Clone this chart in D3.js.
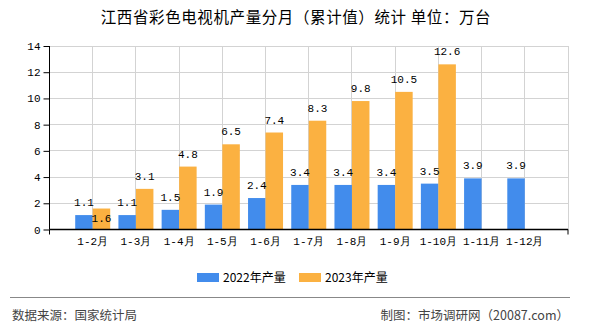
<!DOCTYPE html>
<html><head><meta charset="utf-8">
<script src="https://cdn.jsdelivr.net/npm/d3@7/dist/d3.min.js"></script>
<style>
html,body{margin:0;padding:0;background:#fff;}
svg{display:block;}
</style></head>
<body><svg id="c" width="590" height="330"></svg>
<script>
const categories = ["1-2月","1-3月","1-4月","1-5月","1-6月","1-7月","1-8月","1-9月","1-10月","1-11月","1-12月"];
const values2022 = [1.1,1.1,1.5,1.9,2.4,3.4,3.4,3.4,3.5,3.9,3.9];
const values2023 = [1.6,3.1,4.8,6.5,7.4,8.3,9.8,10.5,12.6,null,null];
const seriesNames = ["2022年产量","2023年产量"];
const yTicks = [0,2,4,6,8,10,12,14];
const title = "江西省彩色电视机产量分月（累计值）统计  单位：万台";
const sourceText = "数据来源：国家统计局";
const creditText = "制图：市场调研网（20087.com）";

const colors = ["#428cec","#fbb141"];
const monoFont = "'Liberation Mono','DejaVu Sans Mono',monospace";
const cjkFont = "'Noto Sans CJK SC','Noto Sans',sans-serif";

const svg = d3.select("#c");
const L = 49.5, R = 568, T = 46, B = 229.5;

const x = d3.scaleLinear().domain([0, categories.length + 1]).range([L, R]);
const cx = i => x(i + 1);
const y = d3.scaleLinear().domain([0, 14]).range([B, T]);
const bw = 17.5;

// gridlines
const g = svg.append("g");
g.selectAll(".hg").data(yTicks.filter(d => d > 0)).join("line")
  .attr("x1", L).attr("x2", R).attr("y1", d => y(d)).attr("y2", d => y(d))
  .attr("stroke", "#d3d3d3").attr("stroke-width", 1).attr("shape-rendering","crispEdges");
g.selectAll(".vg").data(categories.map((c,i)=>cx(i)).concat([R])).join("line")
  .attr("x1", d => d).attr("x2", d => d).attr("y1", T).attr("y2", B)
  .attr("stroke", "#d3d3d3").attr("stroke-width", 1).attr("shape-rendering","crispEdges");

// bars
const bars = svg.append("g");
bars.selectAll(".b1").data(values2022).join("rect")
  .attr("x", (d,i) => cx(i) - bw).attr("width", bw)
  .attr("y", d => y(d)).attr("height", d => B - y(d))
  .attr("fill", colors[0]);
bars.selectAll(".b2").data(values2023.map((v,i)=>({v,i})).filter(d => d.v != null)).join("rect")
  .attr("x", d => cx(d.i)).attr("width", bw)
  .attr("y", d => y(d.v)).attr("height", d => B - y(d.v))
  .attr("fill", colors[1]);

// axes
const yAxis = d3.axisLeft(y).tickValues(yTicks).tickSize(6).tickPadding(3);
const ya = svg.append("g").attr("transform", `translate(${L},0)`).call(yAxis);
ya.select(".domain").attr("stroke", "#000").attr("d", `M0,${T}V${B}`);
ya.selectAll(".tick line").attr("stroke","#000");
ya.selectAll("text").attr("font-family", monoFont).attr("font-size", 11).attr("fill", "#000");

const xa = svg.append("g").attr("transform", `translate(0,${B})`);
xa.append("line").attr("x1", L).attr("x2", R).attr("y1", 0).attr("y2", 0).attr("stroke", "#000").attr("stroke-width", 1.5);
xa.selectAll(".et").data([L, R]).join("line").attr("x1", d=>d).attr("x2", d=>d).attr("y1",0).attr("y2",5).attr("stroke","#000");
xa.selectAll(".xl").data(categories).join("text")
  .attr("x", (d,i) => cx(i)).attr("y", 15)
  .attr("text-anchor","middle").attr("font-family", monoFont).attr("font-size", 11).attr("fill","#000")
  .text(d => d);

// value labels
const lab = svg.append("g").attr("font-family", monoFont).attr("font-size", 11).attr("fill", "#000").attr("text-anchor","middle");
const charW = 6.3;
const blueBoxes = values2022.map((v,i) => {
  const w = String(v).length * charW;
  const base = y(v) - 9;
  return {x0: cx(i) - bw/2 - w/2, x1: cx(i) - bw/2 + w/2, y0: base - 9, y1: base};
});
lab.selectAll(".l1").data(values2022).join("text")
  .attr("x", (d,i) => cx(i) - bw/2).attr("y", d => y(d) - 9).text(d => d.toFixed(1));
lab.selectAll(".l2").data(values2023.map((v,i)=>({v,i})).filter(d => d.v != null)).join("text")
  .attr("x", d => cx(d.i) + bw/2)
  .attr("y", d => {
    const w = String(d.v).length * charW;
    const base = y(d.v) - 9;
    const bx = blueBoxes[d.i];
    const x0 = cx(d.i) + bw/2 - w/2, x1 = cx(d.i) + bw/2 + w/2;
    const overlap = x0 < bx.x1 && x1 > bx.x0 && (base - 9) < bx.y1 && base > bx.y0;
    return overlap ? y(d.v) + 13 : base;
  })
  .text(d => d.v.toFixed(1));

// title
svg.append("text").attr("x", 296).attr("y", 23).attr("text-anchor","middle")
  .attr("font-family", cjkFont).attr("font-size", 15.5).attr("fill","#000")
  .attr("letter-spacing", 0.6)
  .text(title);

// legend
const lg = svg.append("g");
const legendX = [197, 299];
seriesNames.forEach((n, k) => {
  lg.append("rect").attr("x", legendX[k]).attr("y", 273).attr("width", 22).attr("height", 9).attr("fill", colors[k]);
  lg.append("text").attr("x", legendX[k] + 26).attr("y", 281.5)
    .attr("font-family", cjkFont).attr("font-size", 12).attr("fill","#000").text(n);
});

// footer
svg.append("line").attr("x1", 10).attr("x2", 570).attr("y1", 297.5).attr("y2", 297.5).attr("stroke","#888").attr("stroke-width",1);
svg.append("text").attr("x", 12).attr("y", 320).attr("font-family", cjkFont).attr("font-size", 12.5).attr("fill","#444").text(sourceText);
svg.append("text").attr("x", 569).attr("y", 320).attr("text-anchor","end").attr("font-family", cjkFont).attr("font-size", 12.5).attr("fill","#444").text(creditText);
</script>
</body></html>
